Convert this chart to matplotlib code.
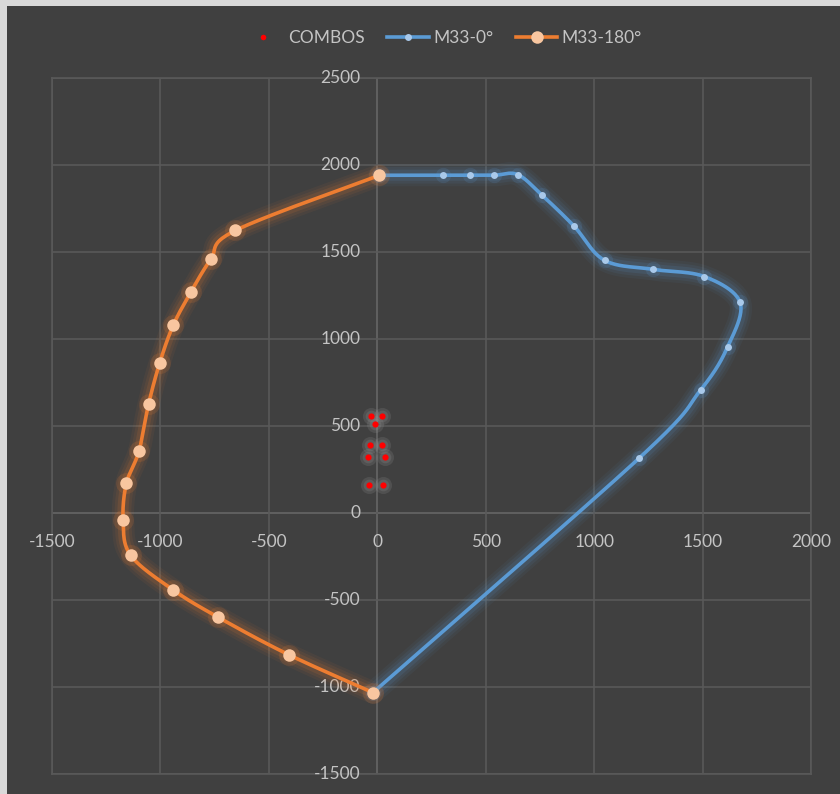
import numpy as np
import matplotlib
matplotlib.use("Agg")
import matplotlib.pyplot as plt
from matplotlib.lines import Line2D
from matplotlib.patches import Rectangle

plt.rcParams['font.family'] = ['Lato', 'DejaVu Sans']

# Interaction diagram data (kN / kN·m)
m33_0_x = [10, 301, 426, 539, 647, 760, 907, 1048, 1273, 1508, 1673, 1616, 1491, 1209, -20]
m33_0_y = [1941, 1941, 1941, 1941, 1945, 1826, 1649, 1452, 1400, 1359, 1210, 956, 707, 317, -1032]

m33_180_x = [10, -654, -768, -860, -941, -1003, -1055, -1099, -1157, -1172, -1138, -944, -734, -409, -20]
m33_180_y = [1941, 1624, 1457, 1269, 1079, 864, 624, 355, 171, -40, -242, -440, -599, -814, -1032]

combos_x = [-28, 20, -9, -32, 23, -41, 34, -37, 28]
combos_y = [559, 559, 509, 388, 388, 323, 323, 160, 160]

x_ticks = [-1500, -1000, -500, 0, 500, 1000, 1500, 2000]
y_ticks = [-1500, -1000, -500, 0, 500, 1000, 1500, 2000, 2500]

BG = '#404040'
GRID = '#595959'
AXIS = '#8c8c8c'
TXT = '#c4c4c4'
BLUE = '#5b9bd5'
BLUE_M = '#a9c9ea'
ORANGE = '#ed7d31'
ORANGE_M = '#f8c6a0'


def smooth(xs, ys, n=24):
    """Catmull-Rom curve through the given points (smoothed line rendering)."""
    p = np.column_stack([xs, ys]).astype(float)
    p = np.vstack([p[0], p, p[-1]])
    out = []
    t = np.linspace(0, 1, n, endpoint=False)
    for i in range(1, len(p) - 2):
        p0, p1, p2, p3 = p[i - 1], p[i], p[i + 1], p[i + 2]
        tt = t[:, None]
        seg = 0.5 * ((2 * p1) + (-p0 + p2) * tt + (2 * p0 - 5 * p1 + 4 * p2 - p3) * tt ** 2
                     + (-p0 + 3 * p1 - 3 * p2 + p3) * tt ** 3)
        out.append(seg)
    out.append(p[-2][None, :])
    c = np.vstack(out)
    return c[:, 0], c[:, 1]


W, H = 840, 794
fig = plt.figure(figsize=(W / 100, H / 100), dpi=100)
fig.patch.set_facecolor('#d9d9d9')
fig.add_artist(Rectangle((7 / W, 0), 1 - 7 / W, 1 - 6 / H, transform=fig.transFigure,
                         facecolor=BG, edgecolor='none', zorder=0))

L, R, T, B = 52, 811, 78, 774
ax = fig.add_axes([L / W, 1 - B / H, (R - L) / W, (B - T) / H])
ax.set_facecolor(BG)
ax.set_xlim(-1500, 2000)
ax.set_ylim(-1500, 2500)
for s in ax.spines.values():
    s.set_color(GRID)
    s.set_linewidth(1.2)
ax.set_xticks(x_ticks)
ax.set_yticks(y_ticks)
ax.grid(True, color=GRID, linewidth=1.2)
ax.tick_params(length=0, labelbottom=False, labelleft=False)
ax.axhline(0, color=AXIS, lw=1.2, zorder=1)
ax.axvline(0, color=AXIS, lw=1.2, zorder=1)

# tick labels sitting next to the axes through the origin
for xv in x_ticks:
    ax.annotate(f'{xv}', (xv, 0), xytext=(0, -15), textcoords='offset points',
                ha='center', va='top', color=TXT, fontsize=12.5, annotation_clip=False)
for yv in y_ticks:
    ax.annotate(f'{yv}', (0, yv), xytext=(-12, 0), textcoords='offset points',
                ha='right', va='center', color=TXT, fontsize=12.5, annotation_clip=False)

# combos with soft halo
ax.scatter(combos_x, combos_y, s=150, color='#9a9a9a', alpha=0.18, lw=0, zorder=3)
ax.scatter(combos_x, combos_y, s=70, color='#9a9a9a', alpha=0.2, lw=0, zorder=3)
ax.scatter(combos_x, combos_y, s=20, color='#ff0000', lw=0, zorder=4)

# glowing smoothed series
for xs, ys, col, mcol, ms in [(m33_0_x, m33_0_y, BLUE, BLUE_M, 5),
                              (m33_180_x, m33_180_y, ORANGE, ORANGE_M, 9)]:
    sx, sy = smooth(xs, ys)
    for w, a in [(16, 0.06), (12, 0.08), (8, 0.12)]:
        ax.plot(sx, sy, color=col, lw=w, alpha=a, solid_capstyle='round', zorder=5)
    ax.plot(sx, sy, color=col, lw=2.6, solid_capstyle='round', zorder=6)
    ax.scatter(xs, ys, s=(ms + 6) ** 2, color=col, alpha=0.15, lw=0, zorder=6)
    ax.plot(xs, ys, ls='none', marker='o', ms=ms, mfc=mcol, mec='none', zorder=7)

handles = [
    Line2D([], [], ls='none', marker='o', ms=4, mfc='#ff0000', mec='none'),
    Line2D([], [], color=BLUE, lw=2.6, marker='o', ms=5, mfc=BLUE_M, mec='none'),
    Line2D([], [], color=ORANGE, lw=2.6, marker='o', ms=9, mfc=ORANGE_M, mec='none'),
]
fig.legend(handles, ['COMBOS', 'M33-0°', 'M33-180°'], loc='center',
           bbox_to_anchor=(442 / W, 1 - 38 / H), ncol=3, frameon=False,
           labelcolor=TXT, fontsize=12.5, handlelength=2.4, handletextpad=0.25,
           columnspacing=1.3)

fig.savefig('out.png', dpi=100, facecolor=fig.get_facecolor())
